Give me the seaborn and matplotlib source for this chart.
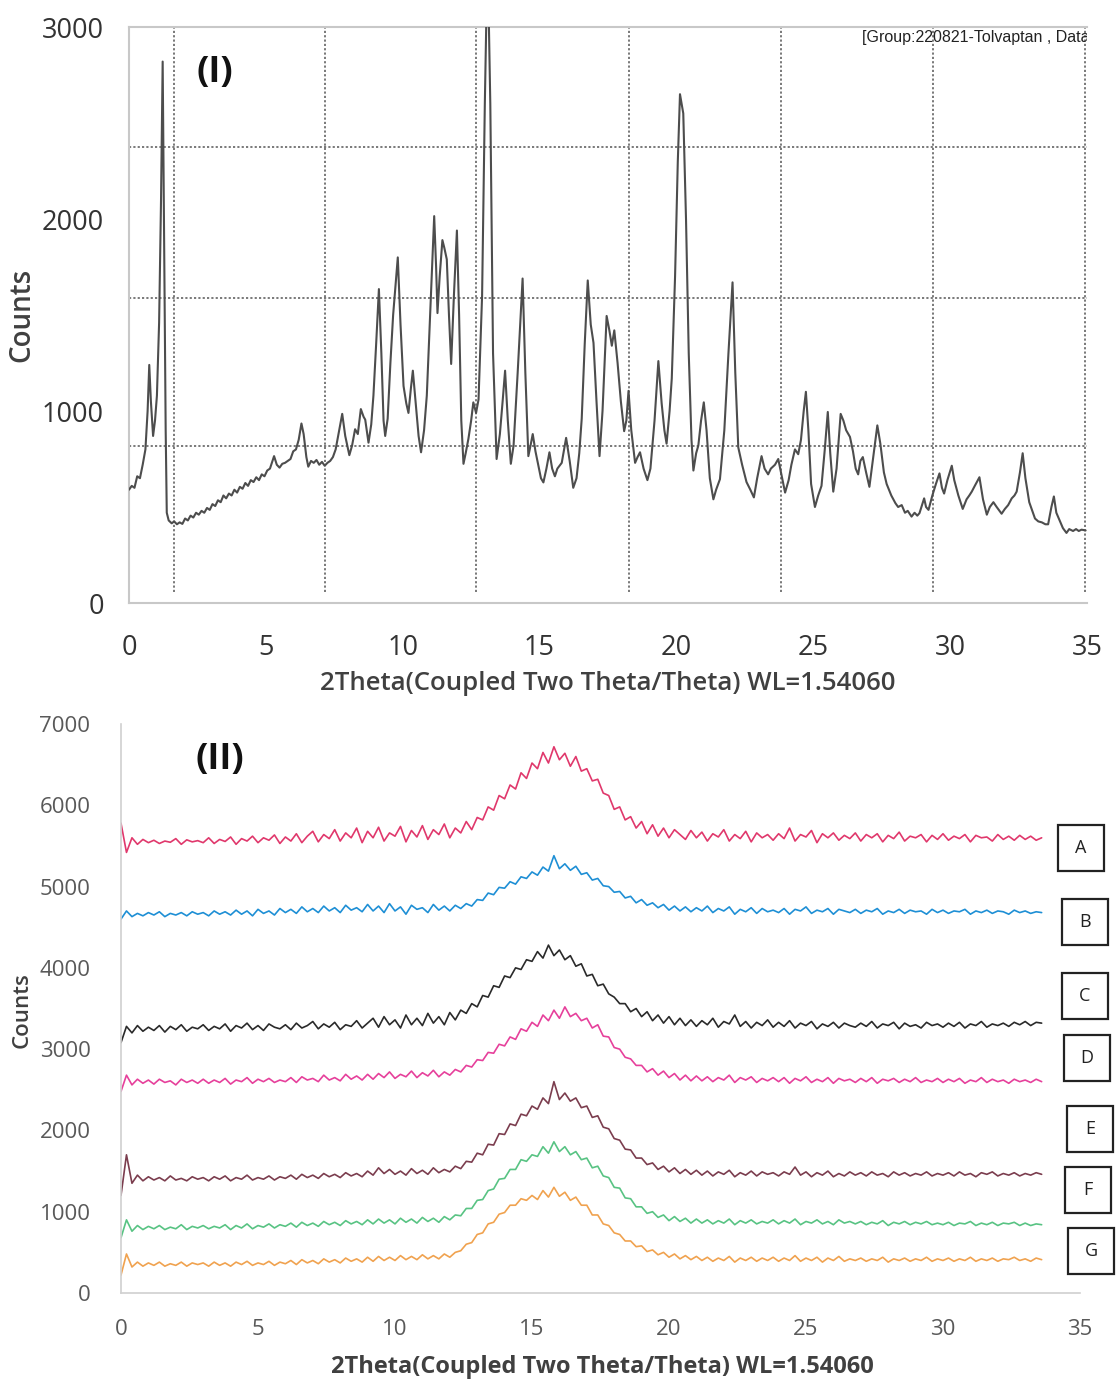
import numpy as np
import pandas as pd
import matplotlib
matplotlib.use("Agg")
import matplotlib.pyplot as plt
from matplotlib.patches import Rectangle
import seaborn as sns

# ---------------- Panel (I): crystalline tolvaptan ----------------
xrd_two_theta = [
    0.00, 0.10, 0.20, 0.30, 0.40, 0.50, 0.60, 0.68, 0.74, 0.80, 0.88, 0.95, 1.02, 1.10, 1.17, 1.23,
    1.29, 1.34, 1.38, 1.45, 1.56, 1.65, 1.75, 1.85, 1.95, 2.05, 2.15, 2.25, 2.35, 2.45, 2.55, 2.65,
    2.75, 2.85, 2.95, 3.05, 3.15, 3.25, 3.35, 3.45, 3.55, 3.65, 3.75, 3.85, 3.95, 4.05, 4.15, 4.25,
    4.35, 4.45, 4.55, 4.65, 4.75, 4.85, 4.95, 5.05, 5.15, 5.30, 5.40, 5.50, 5.60, 5.70, 5.80, 5.90,
    6.00, 6.10, 6.20, 6.30, 6.38, 6.48, 6.55, 6.65, 6.75, 6.85, 6.95, 7.05, 7.15, 7.25, 7.35, 7.45,
    7.55, 7.68, 7.79, 7.90, 8.05, 8.15, 8.26, 8.36, 8.47, 8.57, 8.63, 8.75, 8.85, 8.93, 9.03, 9.13,
    9.22, 9.30, 9.36, 9.45, 9.55, 9.65, 9.82, 9.92, 10.03, 10.13, 10.21, 10.30, 10.37, 10.45, 10.58,
    10.67, 10.78, 10.88, 11.00, 11.15, 11.22, 11.27, 11.35, 11.45, 11.52, 11.61, 11.69, 11.77, 11.87,
    11.98, 12.06, 12.14, 12.22, 12.30, 12.40, 12.50, 12.58, 12.68, 12.77, 12.90, 13.00, 13.10, 13.20,
    13.30, 13.43, 13.55, 13.65, 13.74, 13.84, 13.95, 14.05, 14.20, 14.38, 14.48, 14.59, 14.67, 14.75,
    14.85, 14.95, 15.05, 15.14, 15.25, 15.36, 15.46, 15.56, 15.65, 15.81, 15.97, 16.10, 16.23, 16.35,
    16.45, 16.54, 16.65, 16.76, 16.87, 16.97, 17.08, 17.19, 17.30, 17.45, 17.55, 17.64, 17.73, 17.85,
    17.97, 18.09, 18.17, 18.25, 18.35, 18.49, 18.58, 18.67, 18.80, 18.94, 19.05, 19.20, 19.34, 19.46,
    19.56, 19.64, 19.75, 19.83, 19.95, 20.05, 20.13, 20.25, 20.35, 20.45, 20.55, 20.62, 20.72, 20.80,
    20.90, 21.00, 21.10, 21.22, 21.35, 21.45, 21.59, 21.75, 21.90, 22.05, 22.15, 22.26, 22.40, 22.56,
    22.70, 22.83, 22.95, 23.11, 23.22, 23.35, 23.45, 23.60, 23.72, 23.85, 23.97, 24.10, 24.20, 24.33,
    24.45, 24.55, 24.65, 24.73, 24.82, 24.92, 25.06, 25.18, 25.30, 25.42, 25.53, 25.62, 25.73, 25.85,
    26.00, 26.10, 26.20, 26.34, 26.45, 26.55, 26.64, 26.72, 26.81, 26.93, 27.05, 27.18, 27.34, 27.45,
    27.58, 27.68, 27.85, 28.00, 28.10, 28.23, 28.35, 28.45, 28.59, 28.70, 28.80, 28.88, 28.95, 29.05,
    29.12, 29.21, 29.35, 29.48, 29.61, 29.70, 29.78, 29.90, 30.06, 30.15, 30.30, 30.46, 30.60, 30.70,
    30.79, 30.90, 31.07, 31.20, 31.34, 31.45, 31.58, 31.70, 31.88, 32.00, 32.12, 32.25, 32.35, 32.43,
    32.55, 32.65, 32.75, 32.89, 33.00, 33.10, 33.22, 33.35, 33.48, 33.58, 33.70, 33.79, 33.88, 34.00,
    34.12, 34.25, 34.35, 34.49, 34.60, 34.70, 34.80, 34.95,
]
xrd_counts = [
    590, 610, 600, 660, 650, 720, 800, 1000, 1240, 1050, 870, 950, 1080, 1460, 2100, 2820,
    1800, 900, 470, 430, 415, 425, 410, 420, 412, 440, 430, 455, 445, 470, 460, 480,
    470, 495, 485, 515, 505, 535, 525, 560, 545, 570, 560, 590, 575, 605, 595, 625,
    610, 640, 630, 655, 640, 670, 660, 690, 700, 765, 720, 705, 725, 730, 740, 750,
    790, 800, 850, 935, 880, 760, 710, 740, 730, 745, 720, 735, 715, 730, 740, 760,
    800, 900, 985, 870, 770, 820, 905, 880, 1010, 970, 955, 835, 930, 1080, 1350, 1635,
    1300, 950, 870, 960, 1250, 1500, 1800, 1450, 1130, 1040, 990, 1120, 1210, 1080, 870,
    785, 900, 1080, 1500, 2015, 1750, 1510, 1700, 1890, 1850, 1790, 1500, 1245, 1600,
    1940, 1500, 950, 725, 780, 855, 950, 1045, 990, 1060, 1600, 2600, 3400, 2600,
    1300, 750, 880, 1050, 1210, 950, 725, 820, 1200, 1690, 1200, 765, 820, 880,
    790, 720, 650, 628, 700, 785, 700, 660, 700, 730, 860, 740, 600, 650,
    780, 960, 1350, 1680, 1450, 1355, 1050, 765, 1000, 1495, 1420, 1340, 1420, 1250,
    1050, 895, 950, 1105, 900, 730, 760, 785, 700, 640, 700, 950, 1260, 1040,
    900, 830, 1000, 1170, 1700, 2300, 2650, 2550, 2000, 1300, 850, 690, 780, 820,
    950, 1045, 900, 650, 540, 590, 645, 900, 1300, 1670, 1200, 810, 720, 630,
    590, 550, 650, 765, 700, 670, 700, 720, 750, 660, 575, 640, 720, 800,
    775, 850, 1000, 1100, 900, 620, 500, 560, 610, 800, 995, 780, 580, 700,
    985, 950, 900, 865, 790, 700, 670, 740, 760, 680, 605, 750, 925, 830,
    680, 620, 560, 520, 500, 510, 470, 480, 450, 470, 455, 468, 500, 545,
    500, 485, 560, 620, 675, 600, 570, 640, 715, 640, 560, 490, 540, 560,
    580, 610, 655, 540, 460, 500, 525, 500, 465, 490, 510, 545, 560, 580,
    680, 780, 650, 525, 480, 440, 425, 420, 410, 410, 500, 555, 470, 430,
    390, 365, 385, 375, 385, 375, 382, 378,
]
grid_two_theta = [1.64, 7.16, 12.68, 18.27, 23.82, 29.37, 34.93]
grid_counts = [818, 1589, 2375]

# ---------------- Panel (II): amorphous samples A-G ----------------
scan_start, scan_step, n_points = 0.0, 0.2, 169
sample_labels = ["A", "B", "C", "D", "E", "F", "G"]
sample_colors = ["#e0386c", "#1e8fd5", "#2a2a2a", "#e6409b", "#7b3d4e", "#58c383", "#f0a24f"]

counts_A = [
    5780, 5420, 5600, 5520, 5580, 5540, 5570, 5530, 5560, 5545, 5590, 5520, 5575, 5550, 5565,
    5540, 5600, 5530, 5580, 5555, 5610, 5520, 5590, 5560, 5620, 5540, 5600, 5570, 5635, 5530,
    5610, 5560, 5650, 5540, 5620, 5680, 5550, 5640, 5590, 5700, 5560, 5660, 5600, 5720, 5540,
    5680, 5600, 5730, 5560, 5660, 5620, 5740, 5550, 5690, 5610, 5750, 5580, 5700, 5640, 5770,
    5600, 5720, 5660, 5800, 5700, 5850, 5820, 5980, 5940, 6120, 6080, 6250, 6200, 6400, 6330,
    6520, 6450, 6650, 6520, 6720, 6560, 6640, 6480, 6600, 6420, 6450, 6300, 6320, 6150, 6120,
    5950, 5980, 5820, 5860, 5720, 5800, 5650, 5760, 5620, 5720, 5600, 5700, 5640, 5580, 5690,
    5600, 5670, 5560, 5650, 5610, 5700, 5560, 5640, 5590, 5680, 5550, 5660, 5600, 5640, 5570,
    5650, 5590, 5720, 5560, 5640, 5610, 5690, 5540, 5650, 5600, 5660, 5570, 5630, 5590, 5660,
    5560, 5640, 5600, 5650, 5550, 5630, 5590, 5670, 5560, 5620, 5600, 5640, 5550, 5630, 5580,
    5650, 5570, 5620, 5590, 5640, 5550, 5630, 5600, 5610, 5560, 5640, 5580, 5620, 5570, 5630,
    5580, 5620, 5570, 5600,
]
counts_B = [
    4600, 4700, 4630, 4670, 4640, 4680, 4650, 4690, 4630, 4670, 4650, 4680, 4640, 4690, 4660,
    4680, 4640, 4700, 4660, 4690, 4650, 4710, 4660, 4700, 4640, 4720, 4670, 4700, 4650, 4730,
    4680, 4720, 4670, 4750, 4690, 4730, 4680, 4760, 4700, 4740, 4680, 4770, 4710, 4740, 4690,
    4780, 4700, 4760, 4680, 4790, 4700, 4750, 4660, 4770, 4720, 4740, 4680, 4780, 4710, 4760,
    4700, 4770, 4730, 4790, 4760, 4840, 4830, 4920, 4900, 4990, 4980, 5060, 5030, 5120, 5100,
    5180, 5140, 5240, 5190, 5380, 5220, 5280, 5200, 5250, 5150, 5170, 5080, 5100, 5010, 5000,
    4930, 4940, 4860, 4880, 4800, 4840, 4770, 4800, 4740, 4780, 4710, 4760, 4700, 4750, 4690,
    4740, 4700, 4760, 4680, 4730, 4700, 4750, 4660, 4720, 4690, 4740, 4670, 4730, 4690, 4710,
    4680, 4730, 4660, 4720, 4700, 4750, 4670, 4710, 4690, 4730, 4660, 4720, 4700, 4680, 4720,
    4670, 4710, 4690, 4730, 4660, 4700, 4680, 4720, 4670, 4710, 4690, 4700, 4660, 4720, 4680,
    4710, 4670, 4700, 4690, 4720, 4660, 4700, 4680, 4710, 4670, 4700, 4690, 4660, 4710, 4680,
    4700, 4670, 4690, 4680,
]
counts_C = [
    3080, 3280, 3200, 3290, 3220, 3270, 3230, 3290, 3210, 3280, 3240, 3300, 3220, 3270, 3250,
    3300, 3230, 3280, 3250, 3310, 3220, 3290, 3260, 3320, 3240, 3290, 3230, 3310, 3270, 3250,
    3300, 3240, 3320, 3260, 3290, 3340, 3250, 3310, 3270, 3330, 3240, 3300, 3280, 3350, 3260,
    3320, 3380, 3270, 3400, 3300, 3360, 3260, 3420, 3300, 3380, 3290, 3440, 3320, 3400, 3300,
    3450, 3360, 3480, 3440, 3560, 3520, 3660, 3640, 3780, 3760, 3900, 3880, 4000, 3980, 4100,
    4080, 4200, 4120, 4280, 4150, 4220, 4100, 4150, 4020, 4050, 3900, 3920, 3780, 3800, 3680,
    3640, 3560, 3560, 3460, 3500, 3400, 3460, 3350, 3420, 3320, 3400, 3300, 3380, 3290, 3360,
    3280, 3350, 3300, 3380, 3270, 3340, 3310, 3420, 3280, 3340, 3260, 3330, 3290, 3360, 3270,
    3330, 3280, 3350, 3260, 3320, 3290, 3340, 3250, 3310, 3280, 3330, 3260, 3320, 3290, 3270,
    3320, 3280, 3340, 3260, 3310, 3290, 3330, 3250, 3320, 3280, 3300, 3260, 3330, 3290, 3310,
    3270, 3320, 3280, 3330, 3260, 3310, 3290, 3340, 3270, 3310, 3290, 3320, 3280, 3330, 3300,
    3340, 3290, 3330, 3320,
]
counts_D = [
    2480, 2680, 2560, 2630, 2580, 2620, 2570, 2630, 2590, 2610, 2560, 2630, 2590, 2620, 2580,
    2630, 2580, 2620, 2590, 2640, 2570, 2620, 2600, 2650, 2580, 2630, 2600, 2640, 2590, 2620,
    2600, 2650, 2590, 2660, 2620, 2640, 2600, 2680, 2620, 2650, 2610, 2690, 2630, 2670, 2620,
    2690, 2630, 2700, 2650, 2720, 2640, 2690, 2660, 2730, 2650, 2710, 2670, 2740, 2660, 2720,
    2680, 2750, 2720, 2800, 2780, 2870, 2860, 2960, 2950, 3060, 3040, 3150, 3120, 3250, 3220,
    3330, 3280, 3420, 3350, 3480, 3380, 3520, 3400, 3440, 3350, 3380, 3260, 3300, 3160, 3150,
    3020, 3000, 2900, 2880, 2800, 2800, 2720, 2760, 2680, 2730, 2650, 2700, 2620, 2680, 2610,
    2670, 2610, 2660, 2600, 2650, 2620, 2680, 2590, 2650, 2620, 2660, 2590, 2640, 2610, 2650,
    2600, 2650, 2580, 2640, 2610, 2660, 2590, 2630, 2600, 2650, 2580, 2640, 2610, 2630, 2590,
    2640, 2600, 2650, 2580, 2630, 2610, 2640, 2590, 2630, 2600, 2650, 2590, 2620, 2600, 2640,
    2590, 2630, 2600, 2640, 2580, 2620, 2600, 2650, 2590, 2630, 2600, 2620, 2580, 2630, 2600,
    2620, 2590, 2630, 2600,
]
counts_E = [
    1200, 1700, 1350, 1450, 1380, 1430, 1390, 1420, 1380, 1440, 1390, 1410, 1380, 1430, 1400,
    1420, 1380, 1430, 1400, 1440, 1380, 1420, 1400, 1450, 1390, 1420, 1400, 1440, 1390, 1430,
    1410, 1450, 1400, 1460, 1420, 1450, 1410, 1470, 1430, 1460, 1420, 1480, 1440, 1470, 1430,
    1500, 1450, 1540, 1470, 1520, 1460, 1500, 1450, 1530, 1470, 1510, 1460, 1540, 1480, 1520,
    1490, 1560, 1530, 1620, 1610, 1720, 1700, 1830, 1820, 1960, 1950, 2080, 2060, 2200, 2180,
    2300, 2260, 2400, 2330, 2600, 2380, 2460, 2360, 2400, 2280, 2300, 2160, 2180, 2040, 2020,
    1900, 1880, 1770, 1760, 1660, 1660, 1580, 1600, 1520, 1560, 1490, 1540, 1470, 1520, 1460,
    1510, 1450, 1500, 1440, 1490, 1460, 1510, 1430, 1480, 1450, 1500, 1440, 1490, 1460, 1480,
    1440, 1490, 1460, 1550, 1450, 1490, 1430, 1480, 1450, 1500, 1430, 1470, 1440, 1490, 1450,
    1480, 1440, 1490, 1450, 1470, 1430, 1490, 1450, 1480, 1440, 1470, 1450, 1490, 1440, 1470,
    1450, 1480, 1440, 1490, 1450, 1470, 1430, 1480, 1460, 1490, 1440, 1470, 1450, 1480, 1440,
    1470, 1450, 1480, 1460,
]
counts_F = [
    680, 900, 760, 830, 780, 820, 790, 830, 780, 810, 790, 840, 780, 820, 800,
    830, 790, 820, 800, 840, 780, 830, 800, 850, 790, 830, 810, 850, 800, 840,
    820, 860, 810, 870, 830, 860, 820, 880, 840, 870, 830, 890, 850, 880, 840,
    900, 850, 910, 860, 900, 850, 920, 870, 910, 860, 930, 880, 920, 870, 940,
    900, 960, 950, 1040, 1040, 1140, 1150, 1260, 1280, 1400, 1410, 1520, 1520, 1640, 1620,
    1700, 1680, 1800, 1720, 1860, 1740, 1800, 1700, 1740, 1640, 1660, 1540, 1560, 1440, 1420,
    1300, 1290, 1170, 1160, 1060, 1060, 980, 1000, 930, 960, 890, 940, 880, 920, 860,
    910, 860, 900, 850, 890, 860, 910, 840, 890, 860, 900, 850, 880, 860, 900,
    850, 890, 860, 910, 840, 880, 860, 900, 850, 880, 840, 900, 860, 880, 850,
    880, 840, 870, 850, 890, 830, 870, 850, 880, 840, 870, 850, 880, 840, 860,
    840, 870, 830, 860, 850, 880, 830, 860, 840, 870, 830, 860, 850, 870, 830,
    860, 830, 850, 840,
]
counts_G = [
    220, 480, 320, 380, 330, 370, 340, 380, 330, 360, 340, 380, 330, 370, 350,
    370, 330, 380, 340, 370, 330, 380, 350, 390, 340, 370, 350, 390, 340, 380,
    360, 400, 350, 410, 370, 400, 360, 420, 380, 410, 370, 430, 390, 420, 380,
    440, 390, 450, 400, 440, 400, 460, 410, 450, 410, 470, 420, 460, 420, 480,
    440, 500, 520, 600, 620, 720, 740, 850, 870, 970, 990, 1080, 1080, 1160, 1140,
    1200, 1150, 1260, 1180, 1300, 1190, 1240, 1140, 1180, 1080, 1080, 960, 960, 850, 830,
    740, 720, 640, 640, 570, 580, 510, 530, 470, 500, 440, 480, 420, 460, 410,
    450, 400, 440, 390, 430, 400, 450, 380, 430, 400, 440, 390, 430, 400, 440,
    390, 430, 400, 460, 390, 430, 400, 440, 380, 430, 400, 450, 390, 420, 400,
    430, 390, 420, 400, 440, 380, 420, 400, 430, 390, 420, 400, 440, 390, 420,
    400, 430, 390, 420, 400, 440, 390, 420, 400, 430, 390, 420, 410, 440, 400,
    420, 390, 430, 410,
]
sample_counts = [counts_A, counts_B, counts_C, counts_D, counts_E, counts_F, counts_G]

# ---------------- figure ----------------
sns.set_theme(style="white")
plt.rcParams["font.family"] = ["Open Sans", "DejaVu Sans"]

W, H = 1116, 1380
fig = plt.figure(figsize=(W / 100, H / 100), dpi=100)


def fx(px):
    return px / W


def fy(py):
    return 1 - py / H


# Panel (I)
ax1 = fig.add_axes([fx(129), fy(603), fx(1087) - fx(129), fy(27) - fy(603)])
for gx in grid_two_theta:
    ax1.plot([gx, gx], [55, 3000], color="#6e6e6e", lw=1.3, ls=(0, (1.2, 1.2)), zorder=1)
for gy in grid_counts:
    ax1.axhline(gy, color="#6e6e6e", lw=1.3, ls=(0, (1.2, 1.2)), zorder=1)

sns.lineplot(x=xrd_two_theta, y=xrd_counts, ax=ax1, color="#4d4d4d", lw=1.5,
             estimator=None, sort=False, zorder=3, solid_joinstyle="round")
ax1.set_xlim(0, 35)
ax1.set_ylim(0, 3000)
ax1.set_xticks(range(0, 36, 5))
ax1.set_yticks([0, 1000, 2000, 3000])
ax1.tick_params(axis="x", length=0, pad=22, labelsize=19.5, labelcolor="#333333")
ax1.tick_params(axis="y", length=0, pad=18, labelsize=19.5, labelcolor="#333333")
ax1.set_xlabel("")
ax1.set_ylabel("")
for side in ["left", "top", "bottom"]:
    ax1.spines[side].set_color("#c8c8c8")
    ax1.spines[side].set_linewidth(1.5)
ax1.spines["right"].set_visible(False)
ax1.text(3.14, 2760, "(I)", fontsize=26, fontweight="bold", color="#111111",
         ha="center", va="center")
ax1.text(26.78, 2943, "[Group:220821-Tolvaptan , Data", fontsize=11.5,
         family=["Liberation Sans", "DejaVu Sans"], color="#222222",
         ha="left", va="center", clip_on=True)

fig.text(fx(608), fy(684), "2Theta(Coupled Two Theta/Theta) WL=1.54060",
         fontsize=18.5, fontweight="semibold", color="#404040", ha="center", va="center")
fig.text(fx(22), fy(315), "Counts", fontsize=20, fontweight="semibold",
         color="#404040", rotation=90, ha="center", va="center")

# Panel (II)
ax2 = fig.add_axes([fx(121), fy(1293), fx(1080) - fx(121), fy(724) - fy(1293)])
two_theta_scan = scan_start + scan_step * np.arange(n_points)
frames = []
for label, counts in zip(sample_labels, sample_counts):
    frames.append(pd.DataFrame({"two_theta": two_theta_scan, "counts": counts, "sample": label}))
df = pd.concat(frames, ignore_index=True)
sns.lineplot(data=df, x="two_theta", y="counts", hue="sample",
             palette=dict(zip(sample_labels, sample_colors)), ax=ax2,
             lw=1.2, estimator=None, sort=False, legend=False)
ax2.set_xlim(0, 35)
ax2.set_ylim(0, 7000)
ax2.set_xticks(range(0, 36, 5))
ax2.set_yticks(range(0, 7001, 1000))
ax2.tick_params(axis="x", length=0, pad=19, labelsize=16, labelcolor="#595959")
ax2.tick_params(axis="y", length=0, pad=22, labelsize=16, labelcolor="#595959")
ax2.set_xlabel("")
ax2.set_ylabel("")
for side in ["left", "bottom"]:
    ax2.spines[side].set_color("#d0d0d0")
    ax2.spines[side].set_linewidth(1.2)
for side in ["top", "right"]:
    ax2.spines[side].set_visible(False)
ax2.text(3.61, 6556, "(II)", fontsize=26, fontweight="bold", color="#111111",
         ha="center", va="center")

# sample tags to the right of the traces
box_px = [(1058, 825), (1062, 899), (1062, 973), (1064, 1035), (1067, 1106), (1065, 1167), (1068, 1228)]
for label, (bx, by) in zip(sample_labels, box_px):
    fig.patches.append(Rectangle((fx(bx), fy(by + 46)), fx(46), 46 / H,
                                 transform=fig.transFigure, fill=False,
                                 edgecolor="#222222", lw=1.6))
    fig.text(fx(bx + 23), fy(by + 23), label, fontsize=13, color="#222222",
             ha="center", va="center")

fig.text(fx(602), fy(1367), "2Theta(Coupled Two Theta/Theta) WL=1.54060",
         fontsize=17, fontweight="bold", color="#404040", ha="center", va="center")
fig.text(fx(22), fy(1010), "Counts", fontsize=16, fontweight="semibold",
         color="#404040", rotation=90, ha="center", va="center")

fig.savefig("out.png", dpi=100)
